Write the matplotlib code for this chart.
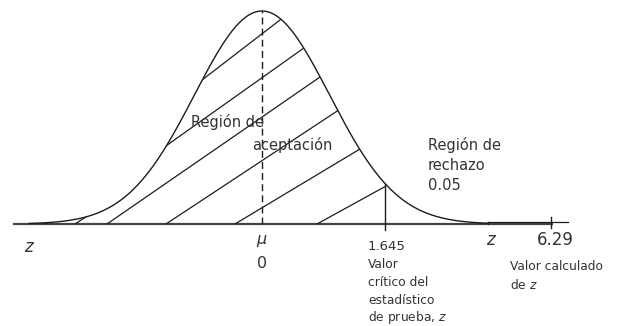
import numpy as np
import matplotlib
matplotlib.use("Agg")
import matplotlib.pyplot as plt
from matplotlib.patches import Polygon

# ---- data ----
z_crit = 1.645          # valor critico
z_calc = 6.29           # valor calculado de z
alpha = 0.05
tick_labels = ["1.645", "6.29"]

# ---- drawing setup (pixel-like layout: 75 px per z unit) ----
PX = 75.0
curve_sd = 0.9
z = np.linspace(-3.107, 3.013, 600)
dens = np.exp(-0.5 * (z / curve_sd) ** 2) / (curve_sd * np.sqrt(2 * np.pi))
YPX = dens.max() / 213.0            # data units per vertical pixel

def px_x(p):
    return (p - 262) / PX

def px_y(p):
    return (224 - p) * YPX

INK = "#1c1c1c"
TXT = "#333333"

fig = plt.figure(figsize=(6.18, 3.26), dpi=100)
ax = fig.add_axes([0, 0, 1, 1])
ax.set_xlim(px_x(0), px_x(618))
ax.set_ylim(px_y(326), px_y(0))
ax.axis("off")

# baseline and right tail
ax.plot([px_x(13), px_x(553)], [0, 0], color="#444444", lw=1.6, solid_capstyle="butt")
ax.plot([z[-1], px_x(568)], [px_y(222), px_y(222)], color=INK, lw=0.9)
ax.plot([z[-1], z[-1]], [0, px_y(222)], color=INK, lw=0.9)

# curve
ax.plot(z, dens, color=INK, lw=1.0)

# mean line
ax.plot([0, 0], [0, dens.max()], color=INK, lw=1.0, linestyle=(0, (5, 3)))

# critical value line
crit_h = np.interp(z_crit, z, dens)
ax.plot([z_crit, z_crit], [px_y(230), crit_h], color=INK, lw=1.0)

# z calc tick (not to scale)
ax.plot([px_x(551), px_x(551)], [px_y(217), px_y(228)], color=INK, lw=1.0)

# hatching in acceptance region (hand-drawn strokes: baseline origin, slope, span)
mask = z <= z_crit
verts = np.column_stack([np.r_[z[mask], z_crit, z_crit, z[0]],
                         np.r_[dens[mask], crit_h, 0, 0]])
clip = Polygon(verts, closed=True, transform=ax.transData,
               facecolor="none", edgecolor="none")
ax.add_patch(clip)
hatch_origin = [15, 45, 56, 75, 107, 166, 235, 317]
hatch_slope = [0.77, 0.60, 0.71, 0.65, 0.69, 0.66, 0.60, 0.55]
hatch_from = [195, 45, 160, 75, 107, 166, 235, 317]
hatch_to = [300, 60, 330, 104, 340, 360, 380, 390]
for o, m, a, b in zip(hatch_origin, hatch_slope, hatch_from, hatch_to):
    xs = np.array([px_x(a), px_x(b)])
    ys = (xs - px_x(o)) * m * PX * YPX
    ln, = ax.plot(xs, ys, color=INK, lw=0.9)
    ln.set_clip_path(clip)

# text
ax.text(px_x(30), px_y(247), "$z$", fontsize=12, color=TXT, ha="center", va="center")
ax.text(0, px_y(241), r"$\mu$", fontsize=11.5, color=TXT, ha="center", va="center")
ax.text(0, px_y(263), "0", fontsize=11.5, color=TXT, ha="center", va="center")

ax.text(px_x(191), px_y(122), "Región de", fontsize=10.5, color=TXT, ha="left", va="center")
ax.text(px_x(252), px_y(145), "aceptación", fontsize=10.5, color=TXT, ha="left", va="center")

for i, s in enumerate(["Región de", "rechazo", f"{alpha:.2f}"]):
    ax.text(px_x(428), px_y(145 + 20 * i), s, fontsize=10.5, color=TXT,
            ha="left", va="center")

ax.text(px_x(368), px_y(247), tick_labels[0], fontsize=9.5, color=TXT, ha="left", va="center")
for i, s in enumerate(["Valor", "crítico del", "estadístico", "de prueba, $z$"]):
    ax.text(px_x(368), px_y(265 + 17.5 * i), s, fontsize=8.8, color=TXT,
            ha="left", va="center")

ax.text(px_x(492), px_y(240), "$z$", fontsize=12, color=TXT, ha="center", va="center")
ax.text(px_x(537), px_y(240), tick_labels[1], fontsize=12, color=TXT, ha="left", va="center")
ax.text(px_x(510), px_y(267), "Valor calculado", fontsize=8.8, color=TXT, ha="left", va="center")
ax.text(px_x(510), px_y(285), "de $z$", fontsize=8.8, color=TXT, ha="left", va="center")

fig.savefig("out.png", dpi=100, facecolor="white")
